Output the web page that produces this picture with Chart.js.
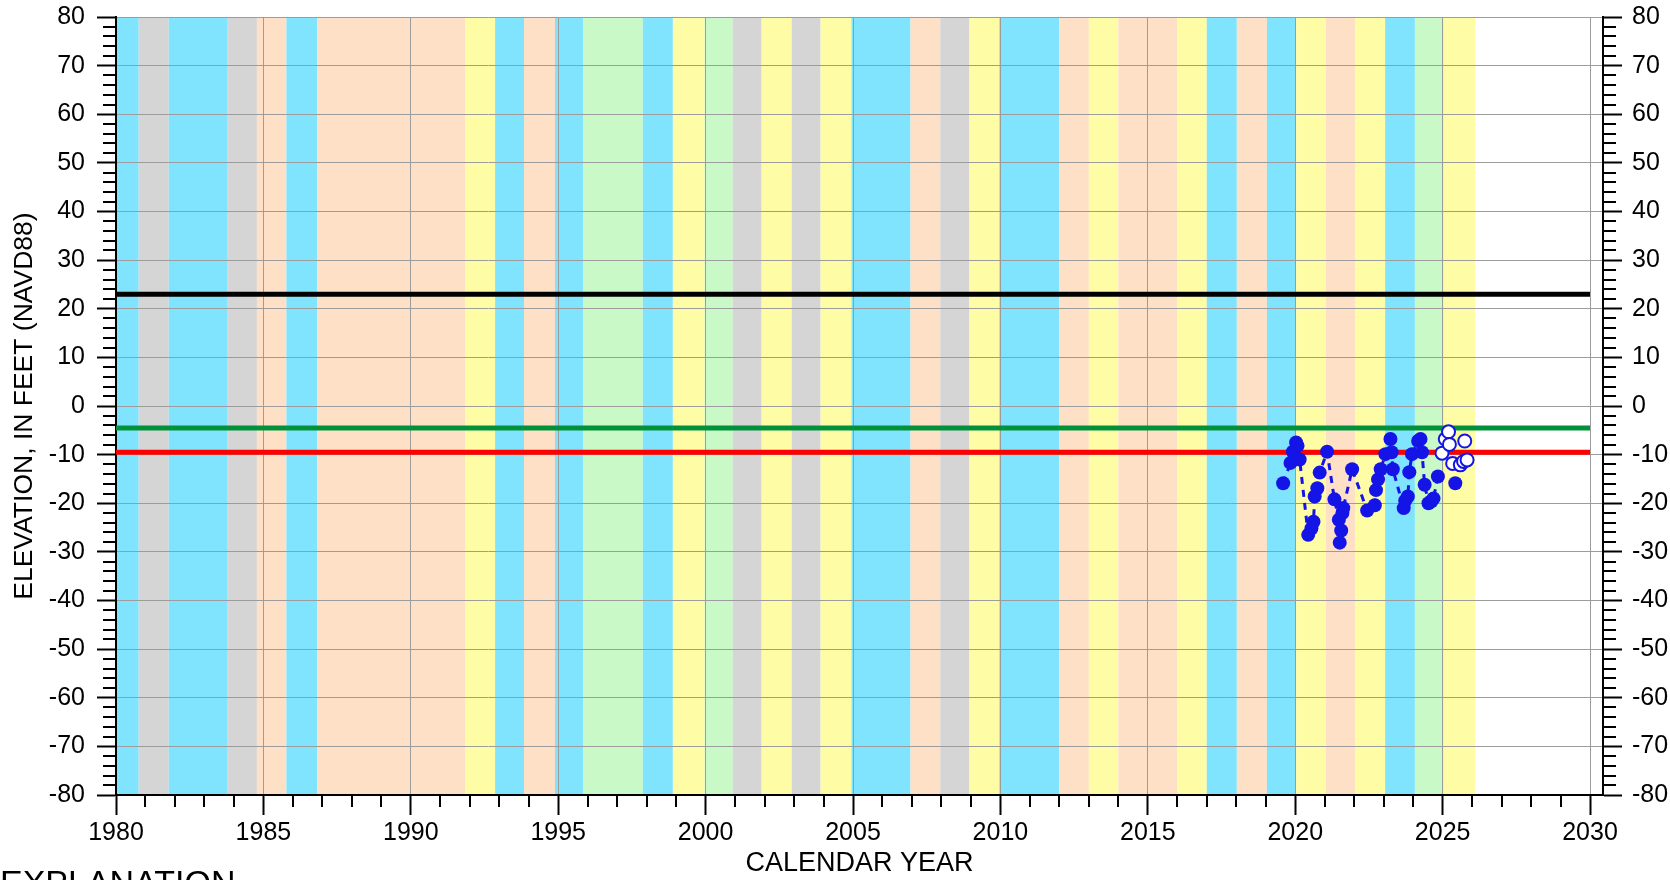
<!DOCTYPE html>
<html>
<head>
<meta charset="utf-8">
<script src="https://cdn.jsdelivr.net/npm/chart.js"></script>
<style>
  body { margin: 0; background: #fff; }
  #wrap { width: 1670px; height: 880px; position: relative; overflow: hidden; }
</style>
</head>
<body>
<div id="wrap"><canvas id="chart" width="1670" height="880"></canvas></div>
<script>
// water level measurements (decimal year, feet NAVD88)
const levelYears = [2019.59, 2019.84, 2019.92, 2020.03, 2020.08, 2020.15, 2020.44, 2020.55, 2020.62, 2020.66,
    2020.75, 2020.83, 2021.08, 2021.33, 2021.48, 2021.51, 2021.56, 2021.60, 2021.63, 2021.93,
    2022.44, 2022.70, 2022.74, 2022.81, 2022.90, 2023.06, 2023.23, 2023.27, 2023.31, 2023.68,
    2023.73, 2023.82, 2023.87, 2023.96, 2024.17, 2024.25, 2024.30, 2024.39, 2024.52, 2024.62,
    2024.69, 2024.84, null, 2025.43];
const levelValues = [-15.9, -11.7, -9.4, -7.5, -8.2, -11.0, -26.5, -25.2, -23.8, -18.6,
    -16.9, -13.7, -9.4, -19.2, -23.4, -28.1, -25.6, -22.0, -21.0, -13.0,
    -21.5, -20.4, -17.3, -15.1, -13.0, -9.9, -6.8, -9.5, -13.0, -21.0,
    -19.5, -18.6, -13.6, -9.9, -7.2, -6.8, -9.5, -16.2, -20.0, -19.6,
    -19.0, -14.5, null, -15.9];

// provisional measurements (open circles)
const provisionalYears = [2024.98, 2025.09, 2025.20, 2025.23, 2025.34, 2025.60, 2025.71, 2025.75, 2025.83];
const provisionalValues = [-9.7, -6.8, -5.3, -7.9, -11.8, -12.1, -11.4, -7.2, -11.1];

// horizontal reference elevations
const refNames = ['top', 'upper', 'lower'];
const refValues = [23, -4.5, -9.5];
const refSpan = [1980, 2030];

// year-type shading: edges (decimal year) and class of each band
const bandEdges = [1980, 1980.77, 1981.79, 1983.79, 1984.78, 1985.78, 1986.82, 1991.84, 1992.86, 1993.84,
    1994.89, 1995.84, 1997.87, 1998.89, 1999.97, 2000.92, 2001.90, 2002.92, 2003.90, 2004.95,
    2006.95, 2007.96, 2008.95, 2009.96, 2012, 2013, 2014, 2016, 2017, 2018.02,
    2019.04, 2020.03, 2021.04, 2022.04, 2023.05, 2024.06, 2025.04, 2026.1];
const bandClass = ['W', 'C', 'W', 'C', 'D', 'W', 'D', 'BN', 'W', 'D',
    'W', 'AN', 'W', 'BN', 'AN', 'C', 'BN', 'C', 'BN', 'W',
    'D', 'C', 'BN', 'W', 'D', 'BN', 'D', 'BN', 'W', 'D',
    'W', 'BN', 'D', 'BN', 'W', 'AN', 'BN'];

// tick labels
const xTicks = [1980, 1985, 1990, 1995, 2000, 2005, 2010, 2015, 2020, 2025, 2030];
const yTicks = [-80, -70, -60, -50, -40, -30, -20, -10, 0, 10, 20, 30, 40, 50, 60, 70, 80];

const FONT = 'Liberation Sans, Arial, sans-serif';
const bandColors = { W: '#80e4fe', AN: '#c9f9c6', BN: '#fffca6', D: '#fde0c5', C: '#d5d5d5' };
const refColors = { top: '#000000', upper: '#00913a', lower: '#ff0000' };
const BLUE = '#1414e6';

function toPoints(xs, ys) {
    return xs.map((x, i) => ({ x: x, y: ys[i] }));
}

const bandPlugin = {
    id: 'bands',
    beforeDraw(chart) {
        const { ctx, chartArea, scales } = chart;
        ctx.save();
        for (let i = 0; i < bandClass.length; i++) {
            const x0 = scales.x.getPixelForValue(bandEdges[i]);
            const x1 = scales.x.getPixelForValue(bandEdges[i + 1]);
            ctx.fillStyle = bandColors[bandClass[i]];
            ctx.fillRect(x0, chartArea.top, x1 - x0, chartArea.bottom - chartArea.top);
        }
        ctx.restore();
    }
};

// minor ticks every year / every 2 ft, plus the cut-off EXPLANATION heading
const minorTickPlugin = {
    id: 'minorTicks',
    afterDraw(chart) {
        const { ctx, chartArea, scales } = chart;
        ctx.save();
        ctx.strokeStyle = '#000';
        ctx.lineWidth = 2;
        ctx.beginPath();
        for (let yr = 1980; yr <= 2030; yr++) {
            if (yr % 5 === 0) continue;
            const px = Math.round(scales.x.getPixelForValue(yr));
            ctx.moveTo(px, chartArea.bottom);
            ctx.lineTo(px, chartArea.bottom + 12);
        }
        for (let v = -80; v <= 80; v += 2) {
            if (v % 10 === 0) continue;
            const py = Math.round(scales.y.getPixelForValue(v));
            ctx.moveTo(chartArea.left - 13, py);
            ctx.lineTo(chartArea.left, py);
            ctx.moveTo(chartArea.right, py);
            ctx.lineTo(chartArea.right + 13, py);
        }
        ctx.stroke();

        ctx.fillStyle = '#000';
        ctx.font = '34px ' + FONT;
        ctx.textBaseline = 'alphabetic';
        ctx.fillText('EXPLANATION', 0, 894);
        ctx.restore();
    }
};

function tickFont() {
    return { family: FONT, size: 25 };
}

function fixedTicks(values) {
    return function(scale) {
        scale.ticks = values.map(v => ({ value: v }));
    };
}

// fixed box sizes so the plot area lands where the original has it
function fitWidth(w) {
    return function(scale) {
        scale.width = w;
        scale.paddingTop = 0;
        scale.paddingBottom = 0;
    };
}

const datasets = [
    {
        label: 'Provisional',
        data: toPoints(provisionalYears, provisionalValues),
        showLine: false,
        pointRadius: 6.5,
        pointBackgroundColor: '#ffffff',
        pointBorderColor: BLUE,
        pointBorderWidth: 2,
        order: 0
    },
    {
        label: 'Water level',
        data: toPoints(levelYears, levelValues),
        showLine: true,
        spanGaps: false,
        borderColor: BLUE,
        borderWidth: 3,
        borderDash: [7, 6],
        tension: 0,
        pointRadius: 7,
        pointBackgroundColor: BLUE,
        pointBorderWidth: 0,
        order: 1
    }
];

refValues.forEach((v, i) => {
    datasets.push({
        label: refNames[i],
        data: refSpan.map(x => ({ x: x, y: v })),
        showLine: true,
        borderColor: refColors[refNames[i]],
        borderWidth: 5,
        pointRadius: 0,
        order: 2 + i
    });
});

new Chart('chart', {
    type: 'scatter',
    data: { datasets: datasets },
    plugins: [bandPlugin, minorTickPlugin],
    options: {
        responsive: false,
        animation: false,
        devicePixelRatio: 1,
        layout: { padding: { top: 17, left: 0, right: 0, bottom: 0 } },
        plugins: {
            legend: { display: false },
            tooltip: { enabled: false }
        },
        scales: {
            x: {
                type: 'linear',
                position: 'bottom',
                min: 1980,
                max: 2030.44,
                afterBuildTicks: fixedTicks(xTicks),
                afterFit: s => { s.height = 85; },
                ticks: {
                    callback: v => String(v),
                    font: tickFont(),
                    color: '#000',
                    padding: 3,
                    maxRotation: 0,
                    autoSkip: false
                },
                grid: {
                    color: '#9c9c9c',
                    lineWidth: 1,
                    tickLength: 20,
                    tickColor: '#000',
                    tickWidth: 2
                },
                border: { display: true, color: '#000', width: 2 },
                title: {
                    display: true,
                    text: 'CALENDAR YEAR',
                    color: '#000',
                    font: { family: FONT, size: 27 },
                    padding: { top: 0, bottom: 0 }
                }
            },
            y: {
                type: 'linear',
                position: 'left',
                min: -80,
                max: 80,
                afterBuildTicks: fixedTicks(yTicks),
                afterFit: fitWidth(116),
                ticks: {
                    callback: v => String(v),
                    font: tickFont(),
                    color: '#000',
                    padding: 12
                },
                grid: {
                    color: '#9c9c9c',
                    lineWidth: 1,
                    tickLength: 19,
                    tickColor: '#000',
                    tickWidth: 2
                },
                border: { display: true, color: '#000', width: 2 },
                title: {
                    display: true,
                    text: 'ELEVATION, IN FEET (NAVD88)',
                    color: '#000',
                    font: { family: FONT, size: 26.5 },
                    padding: { top: 9, bottom: 0 }
                }
            },
            y2: {
                type: 'linear',
                position: 'right',
                min: -80,
                max: 80,
                afterBuildTicks: fixedTicks(yTicks),
                afterFit: fitWidth(67),
                ticks: {
                    callback: v => String(v),
                    font: tickFont(),
                    color: '#000',
                    padding: 10
                },
                grid: {
                    drawOnChartArea: false,
                    tickLength: 19,
                    tickColor: '#000',
                    tickWidth: 2
                },
                border: { display: true, color: '#000', width: 2 }
            }
        }
    }
});
</script>
</body>
</html>
